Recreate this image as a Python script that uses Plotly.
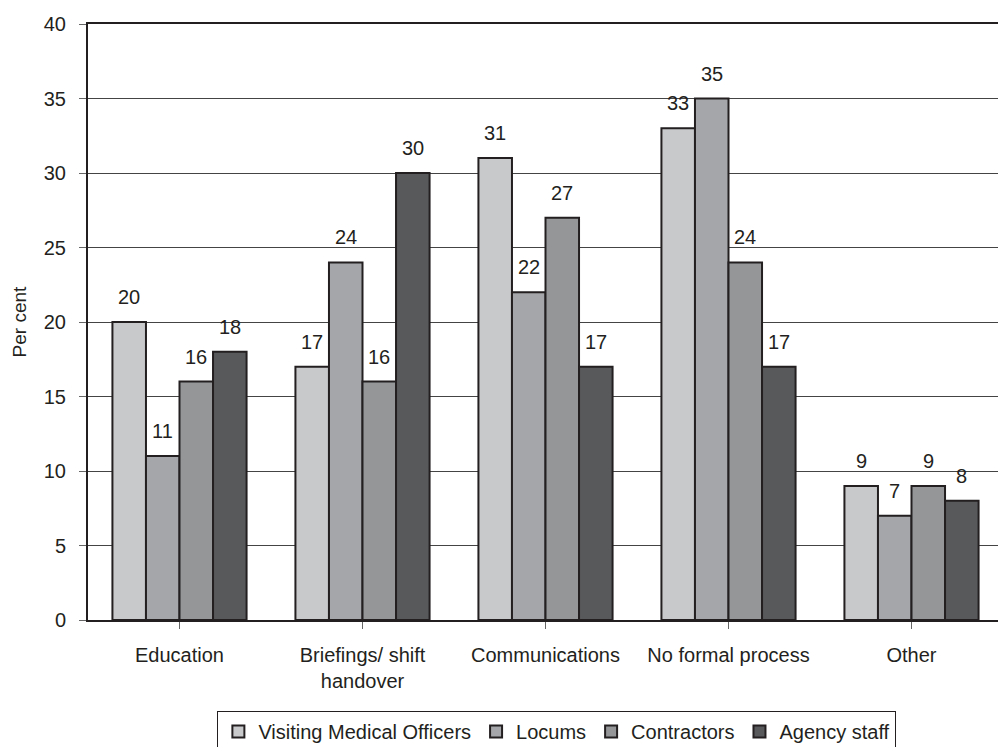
import plotly.graph_objects as go

categories = ["Education", "Briefings/ shift<br>handover", "Communications",
              "No formal process", "Other"]
series_names = ["Visiting Medical Officers", "Locums", "Contractors", "Agency staff"]
vmo = [20, 17, 31, 33, 9]
locums = [11, 24, 22, 35, 7]
contractors = [16, 16, 27, 24, 9]
agency = [18, 30, 17, 17, 8]
colors = ["#c8c9cb", "#a5a6a9", "#959698", "#58595b"]

FONT = "Liberation Sans Narrow, Arial Narrow, Liberation Sans, sans-serif"
INK = "#231f20"
BARGAP = 0.267

all_series = [vmo, locums, contractors, agency]
fig = go.Figure()
for name, vals, col in zip(series_names, all_series, colors):
    fig.add_trace(go.Bar(
        x=list(range(len(categories))), y=vals, name=name,
        marker=dict(color=col, line=dict(color=INK, width=2)),
    ))

# value labels above each bar
n = len(all_series)
bw = (1 - BARGAP) / n
for si, vals in enumerate(all_series):
    off = -(1 - BARGAP) / 2 + bw * (si + 0.5)
    for ci, v in enumerate(vals):
        fig.add_annotation(x=ci + off, y=v, text=str(v), showarrow=False,
                           yanchor="bottom", yshift=12,
                           font=dict(family=FONT, size=20, color=INK))

fig.update_layout(
    width=998, height=747,
    paper_bgcolor="white", plot_bgcolor="white",
    barmode="group", bargap=BARGAP, bargroupgap=0,
    margin=dict(l=88, r=0, t=24, b=127),
    font=dict(family=FONT, size=20, color=INK),
    showlegend=True,
    legend=dict(orientation="h", xref="container", yref="container",
                x=0.558, xanchor="center", y=1 - 711 / 747, yanchor="top",
                bordercolor=INK, borderwidth=1, bgcolor="white",
                font=dict(family=FONT, size=20, color=INK),
                itemwidth=30, tracegroupgap=0),
)
fig.update_xaxes(
    range=[-0.5, -0.5 + 910 / 183], tickmode="array",
    tickvals=list(range(len(categories))), ticktext=categories,
    showline=True, linecolor=INK, linewidth=2, mirror=True,
    ticks="outside", tickson="boundaries", ticklen=7, tickcolor="#666",
    ticklabelstandoff=9, showgrid=False, zeroline=False,
)
fig.update_yaxes(
    range=[0, 40], dtick=5, showline=True, linecolor=INK, linewidth=2,
    ticks="outside", ticklen=7, tickcolor="#666", ticklabelstandoff=9,
    showgrid=True, gridcolor="#444", gridwidth=1, zeroline=False,
    title=dict(text="Per cent", font=dict(family=FONT, size=19, color=INK),
               standoff=12),
)
fig.write_html("out.html")
